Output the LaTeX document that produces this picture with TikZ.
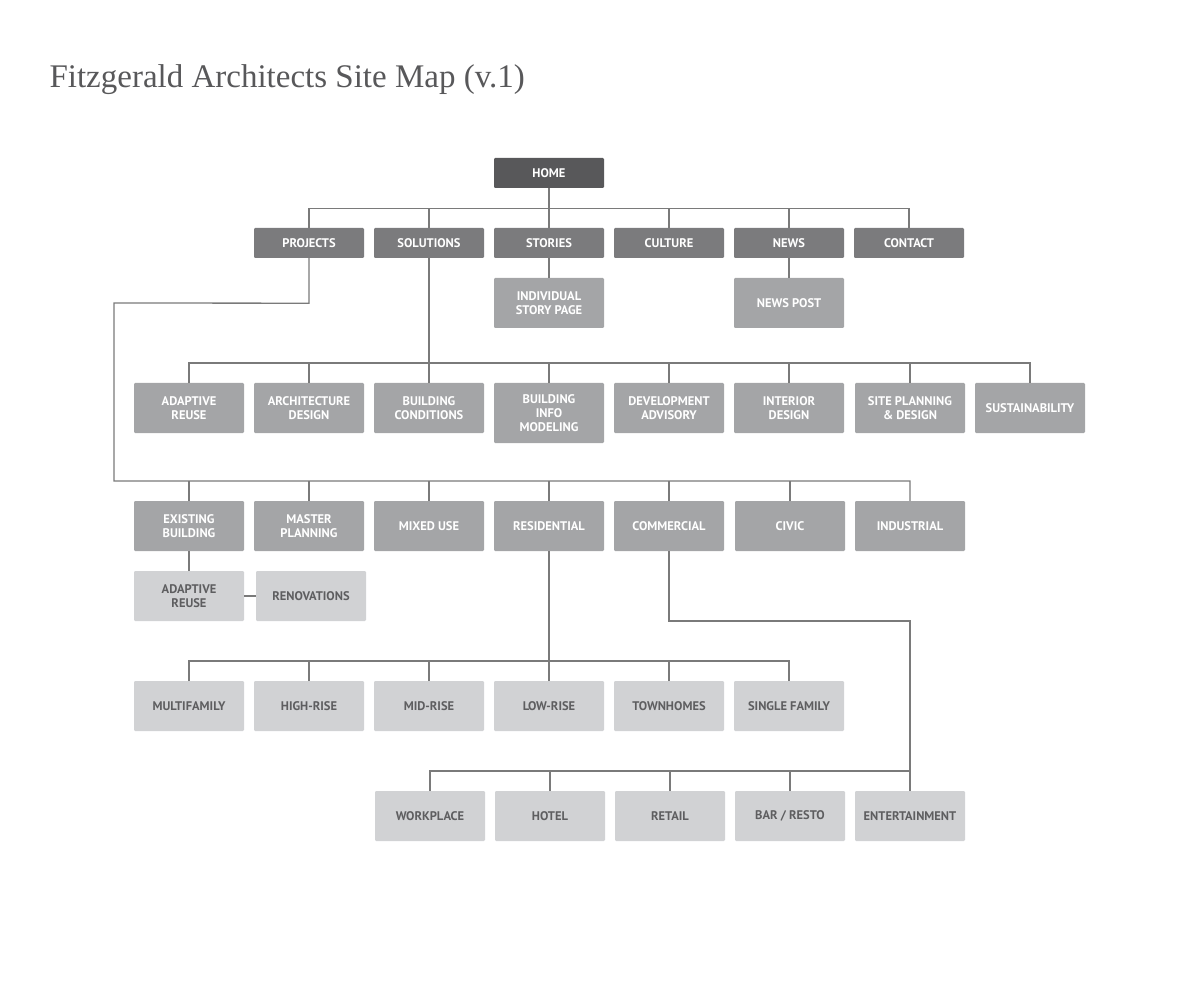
\documentclass[tikz,border=0pt]{standalone}
\usepackage{fontspec}
\setmainfont{PT Sans}
\newfontfamily\titlefont{Liberation Serif}
\definecolor{cHome}{HTML}{58585A}
\definecolor{cOne}{HTML}{7B7B7D}
\definecolor{cTwo}{HTML}{A4A5A7}
\definecolor{cThree}{HTML}{D1D2D4}
\definecolor{cLine}{HTML}{7A7A7A}
\definecolor{cTxt}{HTML}{5E5E60}
\tikzset{
 base/.style={minimum width=110pt,minimum height=30pt,rounded corners=1.2pt,inner sep=1pt,align=center,font=\bfseries\fontsize{12.5}{14}\selectfont},
 home/.style={base,fill=cHome,text=white},
 lone/.style={base,fill=cOne,text=white},
 ltwo/.style={base,fill=cTwo,text=white},
 lthree/.style={base,fill=cThree,text=cTxt},
 tall/.style={minimum height=50pt},
 taller/.style={minimum height=60pt},
 conn/.style={draw=cLine,line width=1.3pt}
}
\begin{document}
\begin{tikzpicture}[x=1pt,y=-1pt]
\useasboundingbox (0,0) rectangle (1200,1000);
\node[anchor=base west,text=cHome,font=\titlefont\fontsize{33}{36}\selectfont] (title) at (46,88) {Fitzgerald Architects Site Map (v.1)};
\node[home] (home) at (549,173) {HOME};
\foreach \n/\t/\x in {proj/PROJECTS/309,sol/SOLUTIONS/429,sto/STORIES/549,cul/CULTURE/669,news/NEWS/789,con/CONTACT/909}
  \node[lone] (\n) at (\x,243) {\t};
\node[ltwo,tall] (story) at (549,303) {INDIVIDUAL\\STORY PAGE};
\node[ltwo,tall] (post) at (789,303) {NEWS POST};
% solutions
\node[ltwo,tall] (s1) at (189,408) {ADAPTIVE\\REUSE};
\node[ltwo,tall] (s2) at (309,408) {ARCHITECTURE\\DESIGN};
\node[ltwo,tall] (s3) at (429,408) {BUILDING\\CONDITIONS};
\node[ltwo,taller] (s4) at (549,413) {BUILDING\\INFO\\MODELING};
\node[ltwo,tall] (s5) at (669,408) {DEVELOPMENT\\ADVISORY};
\node[ltwo,tall] (s6) at (789,408) {INTERIOR\\DESIGN};
\node[ltwo,tall] (s7) at (910,408) {SITE PLANNING\\\& DESIGN};
\node[ltwo,tall] (s8) at (1030,408) {SUSTAINABILITY};
% projects
\node[ltwo,tall] (p1) at (189,526) {EXISTING\\BUILDING};
\node[ltwo,tall] (p2) at (309,526) {MASTER\\PLANNING};
\node[ltwo,tall] (p3) at (429,526) {MIXED USE};
\node[ltwo,tall] (p4) at (549,526) {RESIDENTIAL};
\node[ltwo,tall] (p5) at (669,526) {COMMERCIAL};
\node[ltwo,tall] (p6) at (790,526) {CIVIC};
\node[ltwo,tall] (p7) at (910,526) {INDUSTRIAL};
\node[lthree,tall] (e1) at (189,596) {ADAPTIVE\\REUSE};
\node[lthree,tall] (e2) at (311,596) {RENOVATIONS};
% residential
\foreach \n/\t/\x in {r1/MULTIFAMILY/189,r2/HIGH-RISE/309,r3/MID-RISE/429,r4/LOW-RISE/549,r5/TOWNHOMES/669,r6/SINGLE FAMILY/789}
  \node[lthree,tall] (\n) at (\x,706) {\t};
% commercial
\node[lthree,tall] (c1) at (430,816) {WORKPLACE};
\node[lthree,tall] (c2) at (550,816) {HOTEL};
\node[lthree,tall] (c3) at (670,816) {RETAIL};
\node[lthree,tall] (c4) at (790,816) {BAR / RESTO};
\node[lthree,tall] (c5) at (910,816) {ENTERTAINMENT};
% connectors
\draw[conn] (home.south) -- ++(0,20) coordinate (hb);
\draw[conn] (proj.north) |- (hb) -| (con.north);
\foreach \n in {sol,sto,cul,news} \draw[conn] (\n.north) -- (\n.north |- hb);
\draw[conn] (sto) -- (story);
\draw[conn] (news) -- (post);
\coordinate (sb) at (549,363);
\draw[conn] (s1.north) |- (sb) -| (s8.north);
\draw[conn] (sol.south) -- (sol.south |- sb);
\foreach \n in {s2,s3,s4,s5,s6,s7} \draw[conn] (\n.north) -- (\n.north |- sb);
\coordinate (pb) at (549,481);
\draw[conn] (proj.south) -- ++(0,45) -- (114,303) -- (114,481) -| (p7.north);
\foreach \n in {p1,p2,p3,p4,p5,p6} \draw[conn] (\n.north) -- (\n.north |- pb);
\draw[conn] (p1) -- (e1);
\draw[conn] (e1.east) -- (e2.west);
\coordinate (rb) at (549,661);
\draw[conn] (p4.south) -- (rb);
\draw[conn] (r1.north) |- (rb) -| (r6.north);
\foreach \n in {r2,r3,r4,r5} \draw[conn] (\n.north) -- (\n.north |- rb);
\coordinate (cb) at (670,771);
\draw[conn] (p5.south) |- (910,621) -- (c5.north);
\draw[conn] (c1.north) |- (cb) -| (c5.north);
\foreach \n in {c2,c3,c4} \draw[conn] (\n.north) -- (\n.north |- cb);
\end{tikzpicture}
\end{document}
